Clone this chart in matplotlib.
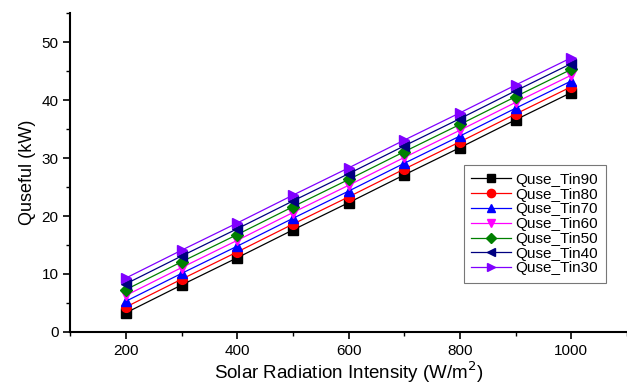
import matplotlib
matplotlib.use('Agg')
import matplotlib.pyplot as plt
from matplotlib.ticker import MultipleLocator

plt.rcParams['font.family'] = ['Liberation Sans', 'DejaVu Sans']

# radiación solar (W/m2)
radiation = [200, 300, 400, 500, 600, 700, 800, 900, 1000]

# Q útil (kW) para cada temperatura de entrada
q_tin90 = [3.3, 8.1, 12.8, 17.6, 22.3, 27.1, 31.8, 36.6, 41.3]
q_tin80 = [4.3, 9.1, 13.8, 18.6, 23.3, 28.1, 32.8, 37.6, 42.3]
q_tin70 = [5.3, 10.1, 14.8, 19.6, 24.3, 29.1, 33.8, 38.6, 43.3]
q_tin60 = [6.3, 11.1, 15.8, 20.6, 25.3, 30.1, 34.8, 39.6, 44.3]
q_tin50 = [7.3, 12.1, 16.8, 21.6, 26.3, 31.1, 35.8, 40.6, 45.3]
q_tin40 = [8.3, 13.1, 17.8, 22.6, 27.3, 32.1, 36.8, 41.6, 46.3]
q_tin30 = [9.3, 14.1, 18.8, 23.6, 28.3, 33.1, 37.8, 42.6, 47.3]

series = [
    ('Quse_Tin90', q_tin90, 'black', 's'),
    ('Quse_Tin80', q_tin80, 'red', 'o'),
    ('Quse_Tin70', q_tin70, 'blue', '^'),
    ('Quse_Tin60', q_tin60, 'magenta', 'v'),
    ('Quse_Tin50', q_tin50, 'green', 'D'),
    ('Quse_Tin40', q_tin40, 'navy', '<'),
    ('Quse_Tin30', q_tin30, '#8000ff', '>'),
]

fig = plt.figure(figsize=(6.27, 3.86), dpi=100)
ax = fig.add_axes([0.112, 0.14, 0.888, 0.826])

for name, vals, col, mk in series:
    ms = 6 if mk in ('D',) else 7
    ax.plot(radiation, vals, color=col, marker=mk, markersize=ms,
            markerfacecolor=col, markeredgecolor=col, linewidth=0.9, label=name)

ax.set_xlim(100, 1100)
ax.set_ylim(0, 55)
ax.xaxis.set_major_locator(MultipleLocator(200))
ax.xaxis.set_minor_locator(MultipleLocator(100))
ax.yaxis.set_major_locator(MultipleLocator(10))
ax.yaxis.set_minor_locator(MultipleLocator(5))
ax.tick_params(which='major', direction='out', length=5, width=1.2, labelsize=11)
ax.tick_params(which='minor', direction='out', length=3, width=1.0)
ax.spines['top'].set_visible(False)
ax.spines['right'].set_visible(False)
ax.spines['left'].set_linewidth(1.5)
ax.spines['bottom'].set_linewidth(1.5)

ax.set_xlabel('Solar Radiation Intensity (W/m$^2$)', fontsize=13.5, labelpad=1)
ax.set_ylabel('Quseful (kW)', fontsize=13)

leg = ax.legend(loc='upper left', bbox_to_anchor=(0.693, 0.547), fontsize=11,
                frameon=True, fancybox=False, edgecolor='#555555',
                handlelength=2.6, handletextpad=0.3, labelspacing=0.05,
                borderpad=0.5, markerscale=0.85)
leg.get_frame().set_linewidth(0.8)

fig.savefig('out.png', dpi=100)
